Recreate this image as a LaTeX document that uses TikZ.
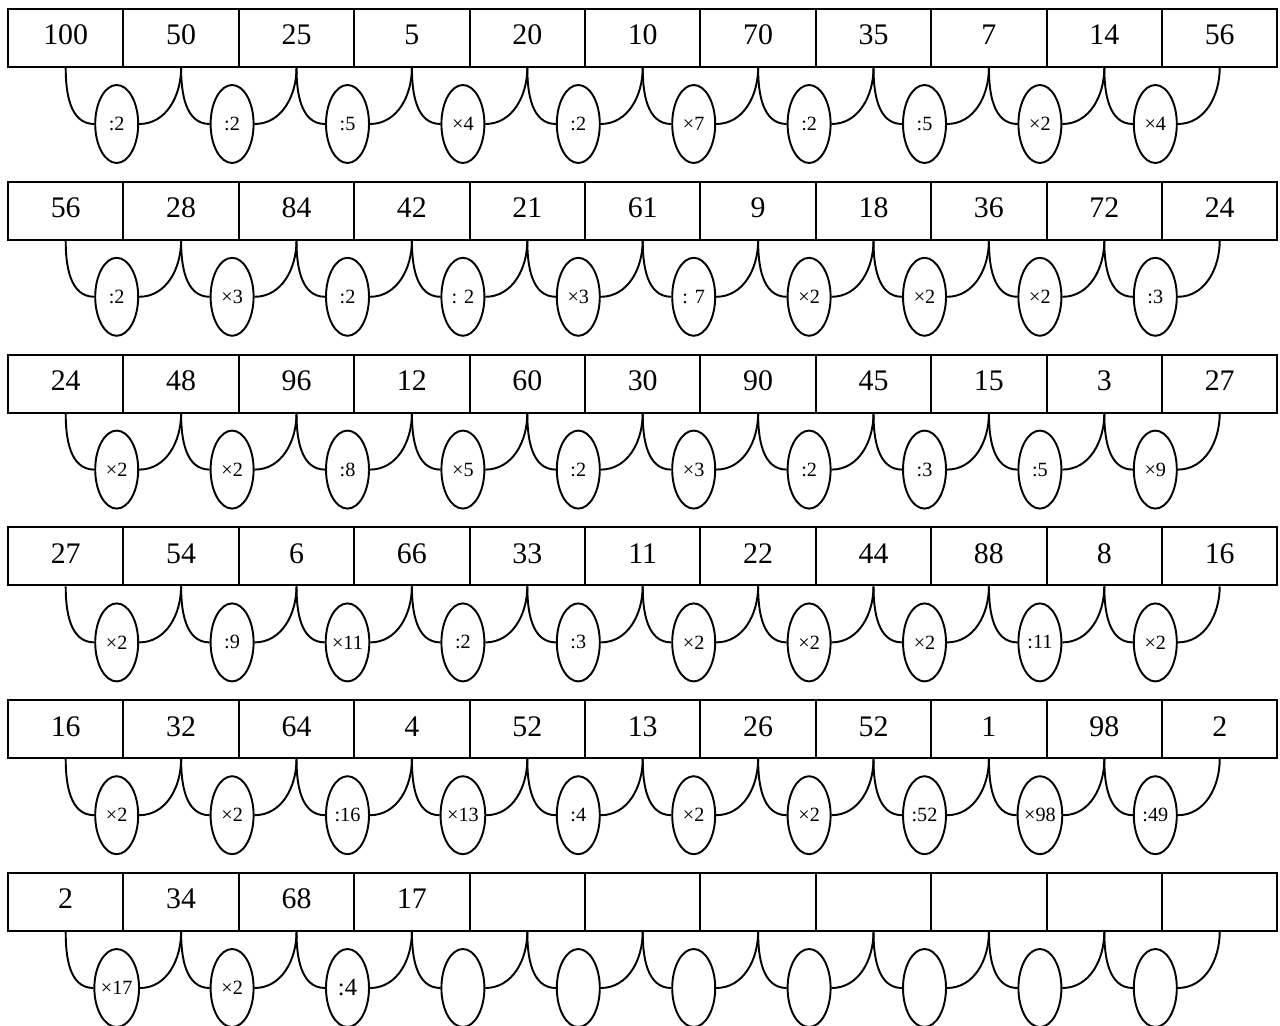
\documentclass[tikz,border=0pt]{standalone}
\usepackage{fontspec}
\setmainfont{Liberation Serif}
\usetikzlibrary{shapes.geometric}

\tikzset{
  numbox/.style={draw, line width=1.1pt, minimum width=2.308cm, minimum height=1.16cm,
    inner sep=0pt, text depth=0.12cm, font=\fontsize{17}{20}\selectfont},
  opnode/.style={draw, ellipse, line width=1.1pt, minimum width=0.86cm, minimum height=1.56cm,
    inner sep=0pt, font=\fontsize{11.5}{13}\selectfont},
  link/.style={line width=1.1pt}
}

\begin{document}
\begin{tikzpicture}[x=0.02cm,y=-0.02cm]
    \useasboundingbox (0,0) rectangle (1280,1026);
    % one row of numbers, with the operation between each pair
    \foreach \row/\nums/\ops in {
      0/{100,50,25,5,20,10,70,35,7,14,56}/{:2,:2,:5,×4,:2,×7,:2,:5,×2,×4},
      1/{56,28,84,42,21,61,9,18,36,72,24}/{:2,×3,:2,: 2,×3,: 7,×2,×2,×2,:3},
      2/{24,48,96,12,60,30,90,45,15,3,27}/{×2,×2,:8,×5,:2,×3,:2,:3,:5,×9},
      3/{27,54,6,66,33,11,22,44,88,8,16}/{×2,:9,×11,:2,:3,×2,×2,×2,:11,×2},
      4/{16,32,64,4,52,13,26,52,1,98,2}/{×2,×2,:16,×13,:4,×2,×2,:52,×98,:49},
      5/{2,34,68,17,{},{},{},{},{},{},{}}/{×17,×2,{\fontsize{14}{16}\selectfont :4},{},{},{},{},{},{},{}}} {
      \foreach \n [count=\i] in \nums
        \node[numbox] (b-\row-\i) at ({65.7+115.4*(\i-1)}, {38+172.8*\row}) {\n};
      \foreach \op [count=\j] in \ops {
        \node[opnode] (e-\row-\j) at ({116.7+115.4*(\j-1)}, {124+172.8*\row}) {\op};
        \pgfmathtruncatemacro\k{\j+1}
        \draw[link] (b-\row-\j.south) to[out=-90,in=180] (e-\row-\j.west);
        \draw[link] (e-\row-\j.east) to[out=0,in=-90] (b-\row-\k.south);
      }
    }
\end{tikzpicture}
\end{document}
